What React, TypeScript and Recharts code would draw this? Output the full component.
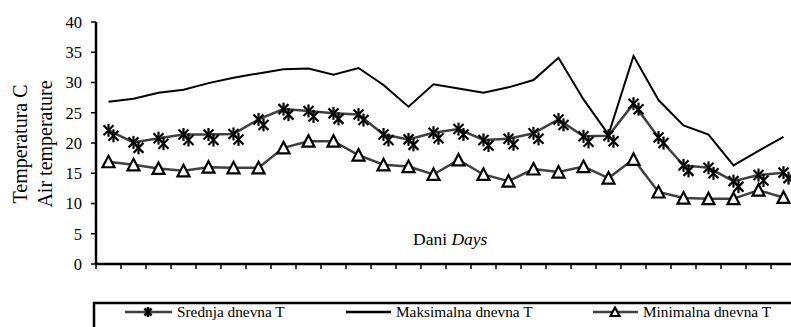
import { LineChart, Line, XAxis, YAxis } from "recharts";

// days of the month (categories)
const days = [
  1, 2, 3, 4, 5, 6, 7, 8, 9, 10, 11, 12, 13, 14,
  15, 16, 17, 18, 19, 20, 21, 22, 23, 24, 25, 26, 27, 28,
];

// Srednja dnevna T (mean)
const meanT = [
  22.1, 20.1, 20.8, 21.4, 21.4, 21.5, 23.9, 25.6, 25.3, 24.9, 24.7, 21.4, 20.6, 21.7,
  22.3, 20.5, 20.7, 21.6, 23.9, 21.1, 21.2, 26.5, 20.9, 16.3, 15.9, 13.7, 14.7, 15.1,
];

// Maksimalna dnevna T (max)
const maxT = [
  26.8, 27.3, 28.3, 28.8, 29.9, 30.8, 31.5, 32.2, 32.3, 31.3, 32.4, 29.6, 26.0, 29.7,
  29.0, 28.3, 29.2, 30.4, 34.1, 27.2, 21.4, 34.4, 27.1, 22.9, 21.4, 16.3, 18.7, 21.0,
];

// Minimalna dnevna T (min)
const minT = [
  16.9, 16.4, 15.8, 15.4, 16.0, 15.9, 15.9, 19.2, 20.3, 20.3, 18.0, 16.4, 16.1, 14.8,
  17.2, 14.8, 13.7, 15.7, 15.2, 16.1, 14.2, 17.3, 11.9, 10.9, 10.8, 10.8, 12.2, 11.0,
];

const yTicks = [0, 5, 10, 15, 20, 25, 30, 35, 40];
const xTicks = [0, ...days];

const legendItems = ["Srednja dnevna T", "Maksimalna dnevna T", "Minimalna dnevna T"];

// category centred between tick marks, like Excel
const data = days.map((d, i) => ({
  x: d - 0.5,
  mean: meanT[i],
  max: maxT[i],
  min: minT[i],
}));

const FONT = "Liberation Serif";

function asterisk(x: number, y: number, r = 5) {
  return (
    <>
      <line x1={x - r} y1={y - r} x2={x + r} y2={y + r} />
      <line x1={x - r} y1={y + r} x2={x + r} y2={y - r} />
      <line x1={x} y1={y - r - 1.5} x2={x} y2={y + r + 1.5} />
    </>
  );
}

// the scan shows each star twice, slightly shifted
const renderStar = (p: any) => {
  if (p.cx == null || p.cy == null) return <g key={`s${p.index}`} />;
  return (
    <g key={`s${p.index}`} stroke="#000" strokeWidth={2.2}>
      {asterisk(p.cx, p.cy)}
      {asterisk(p.cx + 5, p.cy + 5.5)}
    </g>
  );
};

const renderTriangle = (p: any) => {
  if (p.cx == null || p.cy == null) return <g key={`t${p.index}`} />;
  const { cx, cy } = p;
  return (
    <polygon
      key={`t${p.index}`}
      points={`${cx},${cy - 6} ${cx + 6},${cy + 5.5} ${cx - 6},${cy + 5.5}`}
      fill="#fff"
      stroke="#000"
      strokeWidth={2.2}
    />
  );
};

const textStyle = { fontFamily: FONT, fill: "#000" };

function Overlay() {
  return (
    <svg
      width={791}
      height={327}
      style={{ position: "absolute", left: 0, top: 0, pointerEvents: "none" }}
    >
      <text transform="rotate(-90)" fontSize={20} textAnchor="middle" style={textStyle}>
        <tspan x={-144} y={26.5}>Temperatura C</tspan>
        <tspan x={-144} y={52}>Air temperature</tspan>
      </text>
      <text x={413} y={245} fontSize={17.5} style={textStyle}>
        Dani <tspan fontStyle="italic">Days</tspan>
      </text>

      <rect x={94} y={303} width={800} height={40} fill="none" stroke="#000" strokeWidth={2.5} />

      <line x1={125} y1={312} x2={172} y2={312} stroke="#404040" strokeWidth={2.5} />
      <g stroke="#000" strokeWidth={2.5}>{asterisk(148, 312, 3.5)}</g>
      <text x={177} y={317} fontSize={15.3} style={textStyle}>{legendItems[0]}</text>

      <line x1={346} y1={312} x2={391} y2={312} stroke="#000" strokeWidth={2.5} />
      <text x={396} y={317} fontSize={15.3} style={textStyle}>{legendItems[1]}</text>

      <line x1={593} y1={312} x2={638} y2={312} stroke="#404040" strokeWidth={2.5} />
      <polygon points="615,307.5 619.5,316 610.5,316" fill="#fff" stroke="#000" strokeWidth={2.2} />
      <text x={643} y={317} fontSize={15.3} style={textStyle}>{legendItems[2]}</text>
    </svg>
  );
}

export default function App() {
  return (
    <div
      style={{
        position: "absolute",
        left: 0,
        top: 0,
        width: 791,
        height: 327,
        overflow: "hidden",
        background: "#fff",
        fontFamily: FONT,
      }}
    >
      <LineChart
        width={796}
        height={327}
        data={data}
        margin={{ top: 22, right: 0, bottom: 0, left: 0 }}
        style={{ fontFamily: FONT }}
      >
        <XAxis
          type="number"
          dataKey="x"
          domain={[0, 28]}
          ticks={xTicks}
          tickFormatter={() => ""}
          tickSize={5}
          height={63}
          axisLine={{ stroke: "#000", strokeWidth: 2.5 }}
          tickLine={{ stroke: "#000", strokeWidth: 1.5 }}
        />
        <YAxis
          domain={[0, 40]}
          ticks={yTicks}
          width={96}
          tickSize={5}
          tickMargin={9}
          tick={{ fill: "#000", fontSize: 16.5, style: { fontFamily: FONT } }}
          axisLine={{ stroke: "#000", strokeWidth: 2.5 }}
          tickLine={{ stroke: "#000", strokeWidth: 1.5 }}
        />
        <Line
          dataKey="max"
          stroke="#000"
          strokeWidth={2}
          dot={false}
          activeDot={false}
          isAnimationActive={false}
        />
        <Line
          dataKey="mean"
          stroke="#404040"
          strokeWidth={2.5}
          dot={renderStar}
          activeDot={false}
          isAnimationActive={false}
        />
        <Line
          dataKey="min"
          stroke="#404040"
          strokeWidth={2.5}
          dot={renderTriangle}
          activeDot={false}
          isAnimationActive={false}
        />
      </LineChart>
      <Overlay />
    </div>
  );
}
